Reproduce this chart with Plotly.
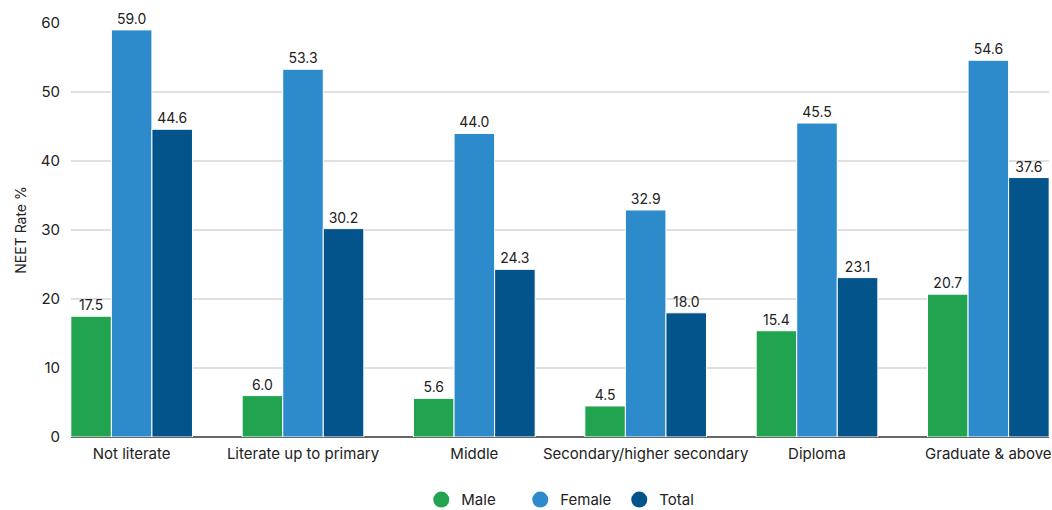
import plotly.graph_objects as go

categories = ["Not literate", "Literate up to primary", "Middle",
              "Secondary/higher secondary", "Diploma", "Graduate & above"]
male = [17.5, 6.0, 5.6, 4.5, 15.4, 20.7]
female = [59.0, 53.3, 44.0, 32.9, 45.5, 54.6]
total = [44.6, 30.2, 24.3, 18.0, 23.1, 37.6]

series = [("Male", male, "#21a34f"),
          ("Female", female, "#2e8bcb"),
          ("Total", total, "#03548a")]

FONT = "Inter, 'Open Sans', sans-serif"

fig = go.Figure()
for name, vals, color in series:
    fig.add_trace(go.Bar(
        x=categories, y=vals, name=name,
        marker=dict(color=color, line=dict(color="white", width=1)),
        text=[f"{v:.1f}" for v in vals], textposition="outside",
        textfont=dict(size=14, color="#222222", family=FONT),
        cliponaxis=False, showlegend=False,
    ))
    # circular legend swatch
    fig.add_trace(go.Scatter(
        x=[None], y=[None], mode="markers", name=name,
        marker=dict(symbol="circle", size=17, color=color),
    ))

fig.update_layout(
    width=1052, height=510,
    margin=dict(l=71, r=3, t=23, b=73, autoexpand=False),
    paper_bgcolor="white", plot_bgcolor="white",
    font=dict(family=FONT, size=15, color="#222222"),
    barmode="group", bargap=0.29, bargroupgap=0,
    showlegend=True,
    legend=dict(orientation="h", x=0.51, xanchor="center",
                yref="container", y=0.02, yanchor="middle",
                entrywidth=54, entrywidthmode="pixels",
                font=dict(size=15, color="#222222"),
                itemsizing="trace", traceorder="normal"),
    xaxis=dict(range=[-0.354, 5.354], showgrid=False, ticks="",
               automargin=False, ticklabelstandoff=6,
               tickfont=dict(size=15, color="#222222")),
    yaxis=dict(range=[0, 60], dtick=10, showgrid=True, gridcolor="#e0e0e0",
               gridwidth=1.5, zeroline=True, zerolinecolor="#666666",
               zerolinewidth=1.5, ticks="", automargin=False,
               ticklabelstandoff=10,
               tickfont=dict(size=15, color="#222222"),
               title=dict(text="NEET Rate %", font=dict(size=14, color="#222222"),
                          standoff=10)),
)

fig.write_html("out.html")
